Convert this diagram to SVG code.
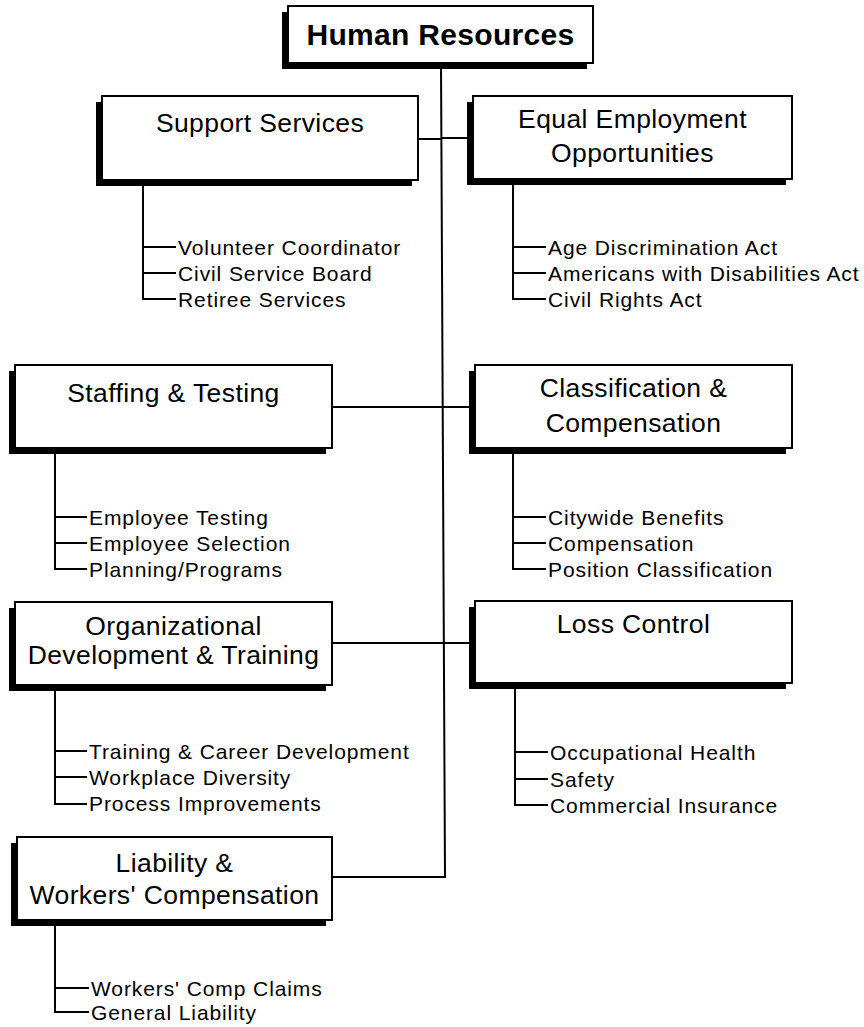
<svg xmlns="http://www.w3.org/2000/svg" width="864" height="1027" viewBox="0 0 864 1027">
<style>
.sh{fill:#000}
.bx{fill:#fff;stroke:#000;stroke-width:2}
.t{font-family:"Liberation Sans",Arial,sans-serif;font-size:26.5px;letter-spacing:0.4px;fill:#000;text-anchor:middle}
.tb{font-family:"Liberation Sans",Arial,sans-serif;font-size:30px;font-weight:bold;letter-spacing:0.3px;fill:#000;text-anchor:middle}
.c{font-family:"Liberation Sans",Arial,sans-serif;font-size:21px;letter-spacing:0.9px;fill:#000}
.ln{fill:none;stroke:#000;stroke-width:2}
</style>
<rect width="864" height="1027" fill="#fff"/>
<g id="connectors">
<path class="ln" d="M441,63 L445,877 L332,877"/>
<path class="ln" d="M418,139 L442,139 M442,138 L473,138"/>
<path class="ln" d="M332,407 L475,407"/>
<path class="ln" d="M332,643 L475,643"/>
</g>
<g id="hr">
<rect class="sh" x="282" y="12" width="305" height="57"/>
<rect class="bx" x="288" y="6" width="305" height="57"/>
<text class="tb" x="440.5" y="45">Human Resources</text>
</g>
<g id="support">
<rect class="sh" x="96" y="102" width="316" height="84"/>
<rect class="bx" x="102" y="96" width="316" height="84"/>
<text class="t" x="260" y="132">Support Services</text>
<path class="ln" d="M143,186 L143,299 L176,299 M143,247 L176,247 M143,273 L176,273"/>
<text class="c" x="178" y="255">Volunteer Coordinator</text>
<text class="c" x="178" y="281">Civil Service Board</text>
<text class="c" x="178" y="307">Retiree Services</text>
</g>
<g id="eeo">
<rect class="sh" x="467" y="102" width="319" height="83"/>
<rect class="bx" x="473" y="96" width="319" height="83"/>
<text class="t" x="632.5" y="128">Equal Employment</text>
<text class="t" x="632.5" y="162">Opportunities</text>
<path class="ln" d="M513,185 L513,299 L546,299 M513,247 L546,247 M513,273 L546,273"/>
<text class="c" x="548" y="255">Age Discrimination Act</text>
<text class="c" x="548" y="281">Americans with Disabilities Act</text>
<text class="c" x="548" y="307">Civil Rights Act</text>
</g>
<g id="staffing">
<rect class="sh" x="9" y="371" width="317" height="83"/>
<rect class="bx" x="15" y="365" width="317" height="83"/>
<text class="t" x="173.5" y="402">Staffing &amp; Testing</text>
<path class="ln" d="M55,454 L55,569 L87,569 M55,517 L87,517 M55,543 L87,543"/>
<text class="c" x="89" y="525">Employee Testing</text>
<text class="c" x="89" y="551">Employee Selection</text>
<text class="c" x="89" y="577">Planning/Programs</text>
</g>
<g id="classification">
<rect class="sh" x="469" y="371" width="317" height="83"/>
<rect class="bx" x="475" y="365" width="317" height="83"/>
<text class="t" x="633.5" y="397">Classification &amp;</text>
<text class="t" x="633.5" y="432">Compensation</text>
<path class="ln" d="M513,454 L513,569 L546,569 M513,517 L546,517 M513,543 L546,543"/>
<text class="c" x="548" y="525">Citywide Benefits</text>
<text class="c" x="548" y="551">Compensation</text>
<text class="c" x="548" y="577">Position Classification</text>
</g>
<g id="orgdev">
<rect class="sh" x="9" y="608" width="317" height="83"/>
<rect class="bx" x="15" y="602" width="317" height="83"/>
<text class="t" x="173.5" y="635">Organizational</text>
<text class="t" x="173.5" y="664">Development &amp; Training</text>
<path class="ln" d="M55,691 L55,804 L87,804 M55,751 L87,751 M55,777 L87,777"/>
<text class="c" x="89" y="759">Training &amp; Career Development</text>
<text class="c" x="89" y="785">Workplace Diversity</text>
<text class="c" x="89" y="811">Process Improvements</text>
</g>
<g id="loss">
<rect class="sh" x="469" y="607" width="317" height="82"/>
<rect class="bx" x="475" y="601" width="317" height="82"/>
<text class="t" x="633.5" y="633">Loss Control</text>
<path class="ln" d="M515,689 L515,805 L548,805 M515,752 L548,752 M515,779 L548,779"/>
<text class="c" x="550" y="760">Occupational Health</text>
<text class="c" x="550" y="787">Safety</text>
<text class="c" x="550" y="813">Commercial Insurance</text>
</g>
<g id="liability">
<rect class="sh" x="11" y="843" width="315" height="83"/>
<rect class="bx" x="17" y="837" width="315" height="83"/>
<text class="t" x="174.5" y="872">Liability &amp;</text>
<text class="t" x="174.5" y="904">Workers' Compensation</text>
<path class="ln" d="M55,926 L55,1012 L89,1012 M55,988 L89,988"/>
<text class="c" x="91" y="996">Workers' Comp Claims</text>
<text class="c" x="91" y="1020">General Liability</text>
</g>
</svg>
